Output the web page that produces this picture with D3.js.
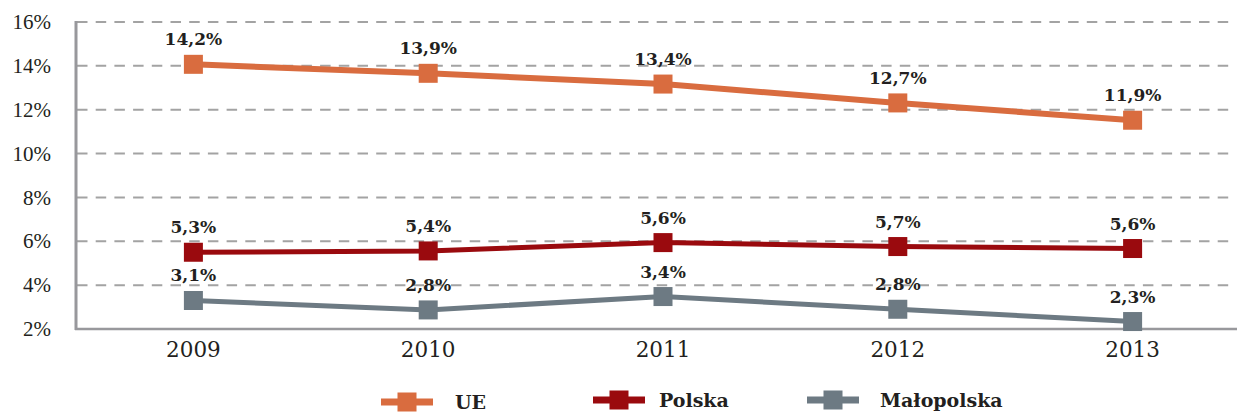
<!DOCTYPE html>
<html>
<head>
<meta charset="utf-8">
<script src="https://cdn.jsdelivr.net/npm/d3@7"></script>
<style>
  body { margin: 0; background: #fff; }
  svg { display: block; }
</style>
</head>
<body>
<script>

var years = ["2009", "2010", "2011", "2012", "2013"];

// plotted positions
var ueValues = [14.07, 13.66, 13.17, 12.31, 11.52];
var polskaValues = [5.50, 5.56, 5.94, 5.76, 5.67];
var malopolskaValues = [3.30, 2.87, 3.48, 2.90, 2.34];

// printed labels
var ueLabels = ["14,2%", "13,9%", "13,4%", "12,7%", "11,9%"];
var polskaLabels = ["5,3%", "5,4%", "5,6%", "5,7%", "5,6%"];
var malopolskaLabels = ["3,1%", "2,8%", "3,4%", "2,8%", "2,3%"];

var yTicks = [2, 4, 6, 8, 10, 12, 14, 16];

var seriesNames = ["UE", "Polska", "Małopolska"];
var seriesColors = ["#d96c3f", "#9a0a0e", "#6d7a83"];

var width = 1237, height = 414;

var svg = d3.select("body").append("svg")
    .attr("width", width)
    .attr("height", height);

var x = d3.scalePoint().domain(years).range([76, 1250]).padding(0.5);
var y = d3.scaleLinear().domain([2, 16]).range([329, 22]);

// grid lines
svg.append("g").selectAll("line")
  .data(yTicks.filter(function(d) { return d > 2; }))
  .enter().append("line")
    .attr("x1", 77)
    .attr("x2", 1232)
    .attr("y1", function(d) { return y(d); })
    .attr("y2", function(d) { return y(d); })
    .attr("stroke", "#a3a3a3")
    .attr("stroke-width", 2)
    .attr("stroke-dasharray", "10.5,8.2");

// y tick labels
svg.append("g").selectAll("text")
  .data(yTicks)
  .enter().append("text")
    .attr("x", 51)
    .attr("y", function(d) { return y(d); })
    .attr("dy", "0.34em")
    .attr("text-anchor", "end")
    .attr("font-family", "Liberation Serif")
    .attr("font-size", 21)
    .attr("fill", "#231f20")
    .text(function(d) { return d + "%"; });

// x labels
svg.append("g").selectAll("text")
  .data(years)
  .enter().append("text")
    .attr("x", function(d) { return x(d); })
    .attr("y", 357)
    .attr("text-anchor", "middle")
    .attr("font-family", "DejaVu Serif")
    .attr("font-size", 21.5)
    .attr("fill", "#231f20")
    .text(function(d) { return d; });

// axes
svg.append("line")
  .attr("x1", 76).attr("x2", 76)
  .attr("y1", 21).attr("y2", 330)
  .attr("stroke", "#98989c")
  .attr("stroke-width", 3);

svg.append("line")
  .attr("x1", 75).attr("x2", 1237)
  .attr("y1", 329).attr("y2", 329)
  .attr("stroke", "#98989c")
  .attr("stroke-width", 2.5);

var series = [
  {values: ueValues, labels: ueLabels, width: 6},
  {values: polskaValues, labels: polskaLabels, width: 5},
  {values: malopolskaValues, labels: malopolskaLabels, width: 5}
];

var line = d3.line()
  .x(function(d, i) { return x(years[i]); })
  .y(function(d) { return y(d); });

var msize = 19;

series.forEach(function(s, k) {
  var g = svg.append("g");
  g.append("path")
    .attr("d", line(s.values))
    .attr("fill", "none")
    .attr("stroke", seriesColors[k])
    .attr("stroke-width", s.width);

  g.selectAll("rect")
    .data(s.values)
    .enter().append("rect")
      .attr("x", function(d, i) { return x(years[i]) - msize / 2; })
      .attr("y", function(d) { return y(d) - msize / 2; })
      .attr("width", msize)
      .attr("height", msize)
      .attr("fill", seriesColors[k]);

  g.selectAll("text")
    .data(s.values)
    .enter().append("text")
      .attr("x", function(d, i) { return x(years[i]); })
      .attr("y", function(d) { return y(d) - 19; })
      .attr("text-anchor", "middle")
      .attr("font-family", "DejaVu Serif")
      .attr("font-weight", "bold")
      .attr("font-size", 17)
      .attr("fill", "#231f20")
      .text(function(d, i) { return s.labels[i]; });
});

// legend (raised a little so the text is not cut at the bottom edge)
var legendX = [381, 593, 807];
var legendY = [402, 400, 400];

seriesNames.forEach(function(name, k) {
  var lg = svg.append("g")
    .attr("transform", "translate(" + legendX[k] + "," + legendY[k] + ")");
  lg.append("line")
    .attr("x1", 0).attr("x2", 52)
    .attr("y1", 0).attr("y2", 0)
    .attr("stroke", seriesColors[k])
    .attr("stroke-width", 7);
  lg.append("rect")
    .attr("x", 26 - msize / 2)
    .attr("y", -msize / 2)
    .attr("width", msize)
    .attr("height", msize)
    .attr("fill", seriesColors[k]);
  lg.append("text")
    .attr("x", [74, 66, 73][k])
    .attr("y", [7, 7, 7][k])
    .attr("font-family", "DejaVu Serif")
    .attr("font-weight", "bold")
    .attr("font-size", 19)
    .attr("fill", "#231f20")
    .text(name);
});

</script>
</body>
</html>
